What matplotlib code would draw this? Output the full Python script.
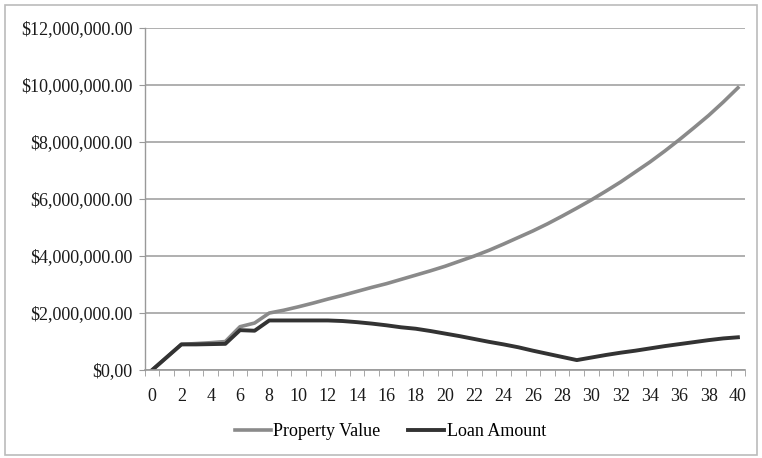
import matplotlib.pyplot as plt
from matplotlib.patches import Rectangle
from matplotlib.ticker import FuncFormatter, MultipleLocator

plt.rcParams['font.family'] = ['Liberation Serif', 'DejaVu Serif']

years = list(range(41))

# values in millions of dollars
property_value = [0.00, 0.45, 0.90, 0.93, 0.96, 1.00, 1.52, 1.65, 2.00, 2.10,
                  2.22, 2.35, 2.49, 2.62, 2.76, 2.90, 3.03, 3.18, 3.33, 3.48,
                  3.64, 3.82, 4.00, 4.20, 4.42, 4.65, 4.88, 5.13, 5.40, 5.68,
                  5.97, 6.28, 6.60, 6.95, 7.30, 7.68, 8.08, 8.50, 8.93, 9.40,
                  9.90]
loan_amount = [0.00, 0.45, 0.90, 0.90, 0.91, 0.92, 1.40, 1.38, 1.74, 1.74,
               1.74, 1.74, 1.74, 1.72, 1.68, 1.63, 1.57, 1.50, 1.45, 1.37,
               1.28, 1.19, 1.09, 0.99, 0.90, 0.80, 0.68, 0.57, 0.46, 0.35,
               0.44, 0.53, 0.61, 0.68, 0.76, 0.84, 0.91, 0.98, 1.05, 1.11,
               1.15]

fig = plt.figure(figsize=(7.62, 4.58), dpi=100)
ax = fig.add_axes([0.190, 0.192, 0.788, 0.747])

prop = [v * 1e6 for v in property_value]
loan = [v * 1e6 for v in loan_amount]
ax.plot(years, prop, color='#8a8a8a', lw=2.6, label='Property Value',
        solid_joinstyle='round')
ax.plot(years, loan, color='#333333', lw=2.8, label='Loan Amount',
        solid_joinstyle='round')

ax.set_xlim(-0.5, 40.5)
ax.set_ylim(0, 12e6)
ax.yaxis.set_major_locator(MultipleLocator(2e6))


def money(v, pos):
    if v == 0:
        return '$0,00'
    return '${:,.2f}'.format(v)


ax.yaxis.set_major_formatter(FuncFormatter(money))
ax.set_xticks(range(0, 41, 2))
ax.set_xticks([x - 0.5 for x in range(42)], minor=True)
ax.tick_params(axis='x', which='major', length=0, pad=13, labelsize=13,
               colors='#1a1a1a')
ax.tick_params(axis='x', which='minor', length=4, color='#999999')
ax.tick_params(axis='y', length=4, color='#999999', labelsize=13,
               labelcolor='#1a1a1a', pad=5)

ax.grid(axis='y', color='#9a9a9a', lw=1.1)
ax.set_axisbelow(True)
for side in ['top', 'right']:
    ax.spines[side].set_visible(False)
ax.spines['left'].set_color('#999999')
ax.spines['bottom'].set_color('#999999')
ax.spines['left'].set_linewidth(1.0)
ax.spines['bottom'].set_linewidth(1.2)

fig.legend(loc='center', bbox_to_anchor=(0.512, 0.057), ncol=2, frameon=False,
           fontsize=13, handlelength=2.0, handletextpad=0.15,
           columnspacing=1.5)

fig.patches.append(Rectangle((0.006, 0.006), 0.988, 0.982,
                             transform=fig.transFigure, fill=False,
                             edgecolor='#bbbbbb', lw=1.2))

fig.savefig('out.png', dpi=100)
